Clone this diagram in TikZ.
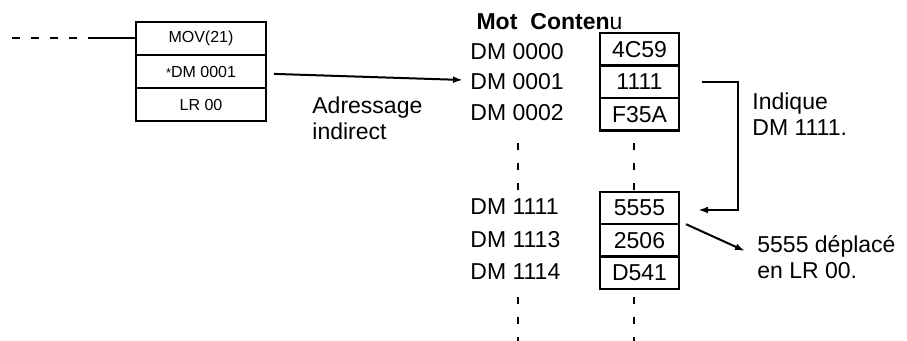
\documentclass[tikz,border=0pt]{standalone}
\usepackage{fontspec}
\setmainfont{Liberation Sans}
\usetikzlibrary{arrows.meta, positioning}

\begin{document}
\begin{tikzpicture}[
    x=0.5pt, y=-0.5pt,
    instr/.style={rectangle, draw, line width=1.2pt, outer sep=0pt, inner sep=0pt, minimum width=65pt, minimum height=16.5pt, font=\fontsize{8}{9}\selectfont},
    cell/.style={rectangle, draw, line width=1.2pt, outer sep=0pt, inner sep=0pt, minimum width=39.5pt, minimum height=16.2pt, font=\fontsize{11.5}{13}\selectfont},
    lbl/.style={inner sep=0pt, anchor=west, align=left, font=\fontsize{11.5}{13}\selectfont},
    link/.style={-{Latex[length=5pt,width=3.4pt]}, line width=1pt},
    dots/.style={line width=1pt, dash pattern=on 3.5pt off 6.5pt}
]
\useasboundingbox (0,0) rectangle (907,341);

% Instruction block
\node[instr] (mov) at (201,38.5) {MOV(21)};
\node[instr, below=0pt of mov] (src) {{\fontsize{6.5}{7}\selectfont *}DM 0001};
\node[instr, below=0pt of src] (dst) {LR 00};

\coordinate (tail) at (12,38.5);
\coordinate (lead) at (88,38.5);
\draw[line width=1pt, dash pattern=on 4pt off 5.5pt] (tail) -- (lead);
\draw[line width=1pt] (lead) -- (mov.west);

% Column headings
\node[lbl, anchor=center] (hmot) at (497,21.5) {\textbf{Mot}};
\node[lbl] (hcont) at (530,21.5) {\textbf{Conten}u};

% Upper words
\node[cell] (c0) at (639.5,49.5) {4C59};
\node[cell, below=0pt of c0] (c1) {1111};
\node[cell, below=0pt of c1] (c2) {F35A};
\node[lbl] (m0) at (470,51.5) {DM 0000};
\node[lbl] (m1) at (470,82) {DM 0001};
\node[lbl] (m2) at (470,113) {DM 0002};

% Lower words
\node[cell] (d0) at (639.5,208) {5555};
\node[cell, below=0pt of d0] (d1) {2506};
\node[cell, below=0pt of d1] (d2) {D541};
\node[lbl] (n0) at (470,207) {DM 1111};
\node[lbl] (n1) at (470,240) {DM 1113};
\node[lbl] (n2) at (470,272) {DM 1114};

% Gaps in the memory
\coordinate (ma) at (518,143);
\coordinate (mb) at (518,190);
\coordinate (mc) at (518,297);
\coordinate (md) at (518,341);
\coordinate (ka) at (634,143);
\coordinate (kb) at (634,192);
\coordinate (kc) at (634,297);
\coordinate (kd) at (634,341);
\draw[dots] (ma) -- (mb);
\draw[dots] (ka) -- (kb);
\draw[dots] (mc) -- (md);
\draw[dots] (kc) -- (kd);

% Notes
\node[lbl] (adr) at (312,118) {Adressage\\indirect};
\node[lbl] (ind) at (752,114) {Indique\\DM 1111.};
\node[lbl] (mvd) at (757,257) {5555 d\'eplac\'e\\en LR 00.};

% Arrows
\draw[link] ([xshift=4pt,yshift=-1.2pt]src.east) -- ([xshift=-3.5pt,yshift=1pt]m1.west);
\draw[link] ([xshift=11.5pt]c1.east) -- ++(18pt,0) |- ([xshift=9.5pt,yshift=-1pt]d0.east);
\draw[link] ([xshift=3.5pt]d1.north east) -- ([xshift=-6pt,yshift=3pt]mvd.west);
\end{tikzpicture}
\end{document}
